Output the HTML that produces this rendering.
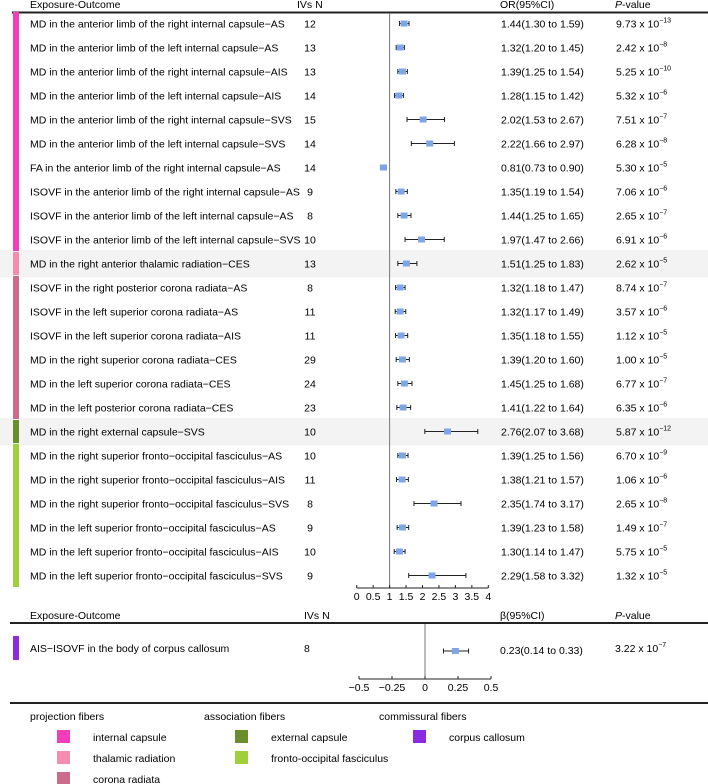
<!DOCTYPE html>
<html><head><meta charset="utf-8">
<style>
body{margin:0;background:#fff;}
svg{display:block;font-family:"Liberation Sans",Arial,sans-serif;font-size:10.5px;}
</style></head><body>
<svg id="chart" width="708" height="784" viewBox="0 0 708 784"></svg>
<script>
const labels=["MD in the anterior limb of the right internal capsule\u2212AS","MD in the anterior limb of the left internal capsule\u2212AS","MD in the anterior limb of the right internal capsule\u2212AIS","MD in the anterior limb of the left internal capsule\u2212AIS","MD in the anterior limb of the right internal capsule\u2212SVS","MD in the anterior limb of the left internal capsule\u2212SVS","FA in the anterior limb of the right internal capsule\u2212AS","ISOVF in the anterior limb of the right internal capsule\u2212AS","ISOVF in the anterior limb of the left internal capsule\u2212AS","ISOVF in the anterior limb of the left internal capsule\u2212SVS","MD in the right anterior thalamic radiation\u2212CES","ISOVF in the right posterior corona radiata\u2212AS","ISOVF in the left superior corona radiata\u2212AS","ISOVF in the left superior corona radiata\u2212AIS","MD in the right superior corona radiata\u2212CES","MD in the left superior corona radiata\u2212CES","MD in the left posterior corona radiata\u2212CES","MD in the right external capsule\u2212SVS","MD in the right superior fronto\u2212occipital fasciculus\u2212AS","MD in the right superior fronto\u2212occipital fasciculus\u2212AIS","MD in the right superior fronto\u2212occipital fasciculus\u2212SVS","MD in the left superior fronto\u2212occipital fasciculus\u2212AS","MD in the left superior fronto\u2212occipital fasciculus\u2212AIS","MD in the left superior fronto\u2212occipital fasciculus\u2212SVS"];
const ivsN=[12,13,13,14,15,14,14,9,8,10,13,8,11,11,29,24,23,10,10,11,8,9,10,9];
const orVals=[1.44,1.32,1.39,1.28,2.02,2.22,0.81,1.35,1.44,1.97,1.51,1.32,1.32,1.35,1.39,1.45,1.41,2.76,1.39,1.38,2.35,1.39,1.30,2.29];
const ciLow=[1.30,1.20,1.25,1.15,1.53,1.66,0.73,1.19,1.25,1.47,1.25,1.18,1.17,1.18,1.20,1.25,1.22,2.07,1.25,1.21,1.74,1.23,1.14,1.58];
const ciHigh=[1.59,1.45,1.54,1.42,2.67,2.97,0.90,1.54,1.65,2.66,1.83,1.47,1.49,1.55,1.60,1.68,1.64,3.68,1.56,1.57,3.17,1.58,1.47,3.32];
const pMant=["9.73","2.42","5.25","5.32","7.51","6.28","5.30","7.06","2.65","6.91","2.62","8.74","3.57","1.12","1.00","6.77","6.35","5.87","6.70","1.06","2.65","1.49","5.75","1.32"];
const pExp=["\u221213","\u22128","\u221210","\u22126","\u22127","\u22128","\u22125","\u22126","\u22127","\u22126","\u22125","\u22127","\u22126","\u22125","\u22125","\u22127","\u22126","\u221212","\u22129","\u22126","\u22128","\u22127","\u22125","\u22125"];
const rowGroup=[0,0,0,0,0,0,0,0,0,0,1,2,2,2,2,2,2,3,4,4,4,4,4,4];
const groupColors=["#f23fb9","#f68db0","#cc6c8c","#6b8e2c","#9fd03c","#8a2be2"];
const xTicks=[0,0.5,1,1.5,2,2.5,3,3.5,4];
const xTickLabels=["0","0.5","1","1.5","2","2.5","3","3.5","4"];
const betaVals=[0.23];const betaLow=[0.14];const betaHigh=[0.33];
const bTicks=[-0.5,-0.25,0,0.25,0.5];
const bTickLabels=["\u22120.5","\u22120.25","0","0.25","0.5"];

const NS="http://www.w3.org/2000/svg";
const svg=document.getElementById('chart');
function el(tag,attrs,parent){const e=document.createElementNS(NS,tag);for(const k in attrs)e.setAttribute(k,attrs[k]);(parent||svg).appendChild(e);return e;}
function txt(x,y,s,attrs){const t=el('text',Object.assign({x:x,y:y},attrs||{}));t.textContent=s;return t;}
const xScale=v=>356.7+v*32.9;
const yRow=i=>23.5+i*24;
const bScale=v=>425+v*132;

[10,17].forEach(i=>{const r=el('rect',{x:0,y:yRow(i)-13.5,width:708,height:27.5,fill:'#f3f3f3'});
});

const h1=txt(30,8,"Exposure-Outcome");
const h2=txt(297,8,"IVs N");
const h3=txt(500,8,"OR(95%CI)");
const h4=el('text',{x:615,y:8});h4.innerHTML='<tspan font-style="italic">P</tspan>-value';
const hl=el('line',{x1:12,x2:708,y1:12.5,y2:12.5,stroke:'#222','stroke-width':2});

for(let g=0;g<5;g++){const idx=rowGroup.map((v,i)=>v===g?i:-1).filter(i=>i>=0);
const y0=yRow(idx[0])-11.5,y1=yRow(idx[idx.length-1])+11.5;
const r=el('rect',{x:13,y:y0,width:6,height:y1-y0,fill:groupColors[g]});
}

const rl=el('line',{x1:xScale(1),x2:xScale(1),y1:13,y2:588,stroke:'#777','stroke-width':1});


labels.forEach((lab,i)=>{const y=yRow(i);
const t=txt(30,y+4,lab);
const n=txt(310,y+4,String(ivsN[i]),{'text-anchor':'middle'});
const o=txt(501,y+4,orVals[i].toFixed(2)+"("+ciLow[i].toFixed(2)+" to "+ciHigh[i].toFixed(2)+")");
const p=el('text',{x:616,y:y+4});p.innerHTML=pMant[i]+' x 10<tspan dy="-5" font-size="7">'+pExp[i]+'</tspan>';
const ci=el('path',{d:`M${xScale(ciLow[i])},${y}H${xScale(ciHigh[i])}M${xScale(ciLow[i])},${y-2.5}V${y+2.5}M${xScale(ciHigh[i])},${y-2.5}V${y+2.5}`,stroke:'#222','stroke-width':1,fill:'none'});

const m=el('rect',{x:xScale(orVals[i])-3.5,y:y-3,width:7,height:6,fill:'#7ea6e6'});
});

const ax=el('line',{x1:xScale(0),x2:xScale(4),y1:588,y2:588,stroke:'#222'});
xTicks.forEach((v,i)=>{const tk=el('line',{x1:xScale(v),x2:xScale(v),y1:585,y2:588,stroke:'#222'});
const tl=txt(xScale(v),600,xTickLabels[i],{'text-anchor':'middle'});});

const b1=txt(30,619,"Exposure-Outcome");
const b2=txt(304,619,"IVs N");
const b3=txt(500,619,"\u03b2(95%CI)");
const b4=el('text',{x:615,y:619});b4.innerHTML='<tspan font-style="italic">P</tspan>-value';
const bl=el('line',{x1:10,x2:708,y1:623,y2:623,stroke:'#222','stroke-width':2});
const pb=el('rect',{x:13,y:636,width:6,height:24,fill:groupColors[5]});
const bt=txt(30,652,"AIS\u2212ISOVF in the body of corpus callosum");
const bn=txt(304,652,"8");
const bo=txt(500,654,betaVals[0].toFixed(2)+"("+betaLow[0].toFixed(2)+" to "+betaHigh[0].toFixed(2)+")");
const bp=el('text',{x:615,y:652});bp.innerHTML='3.22 x 10<tspan dy="-5" font-size="7">\u22127</tspan>';
const brl=el('line',{x1:bScale(0),x2:bScale(0),y1:624,y2:679,stroke:'#777'});
const by=651;
const bci=el('path',{d:`M${bScale(betaLow[0])},${by}H${bScale(betaHigh[0])}M${bScale(betaLow[0])},${by-2.5}V${by+2.5}M${bScale(betaHigh[0])},${by-2.5}V${by+2.5}`,stroke:'#222',fill:'none'});

const bm=el('rect',{x:bScale(betaVals[0])-3.5,y:by-3,width:7,height:6,fill:'#7ea6e6'});
const bax=el('line',{x1:bScale(-0.5),x2:bScale(0.5),y1:679,y2:679,stroke:'#222'});
bTicks.forEach((v,i)=>{const tk=el('line',{x1:bScale(v),x2:bScale(v),y1:676,y2:679,stroke:'#222'});
const tl=txt(bScale(v),691,bTickLabels[i],{'text-anchor':'middle'});});
const fl=el('line',{x1:10,x2:708,y1:703,y2:703,stroke:'#222','stroke-width':2});

const legendCats=[[30,"projection fibers"],[204,"association fibers"],[379,"commissural fibers"]];
legendCats.forEach(c=>{const t=txt(c[0],720,c[1]);});
const legendItems=[[57,730,0,"internal capsule"],[57,751,1,"thalamic radiation"],[57,772,2,"corona radiata"],[235,730,3,"external capsule"],[235,751,4,"fronto-occipital fasciculus"],[413,730,5,"corpus callosum"]];
legendItems.forEach(it=>{const r=el('rect',{x:it[0],y:it[1],width:13,height:13,fill:groupColors[it[2]]});
const t=txt(it[0]+36,it[1]+11,it[3]);});
</script>
</body></html>
